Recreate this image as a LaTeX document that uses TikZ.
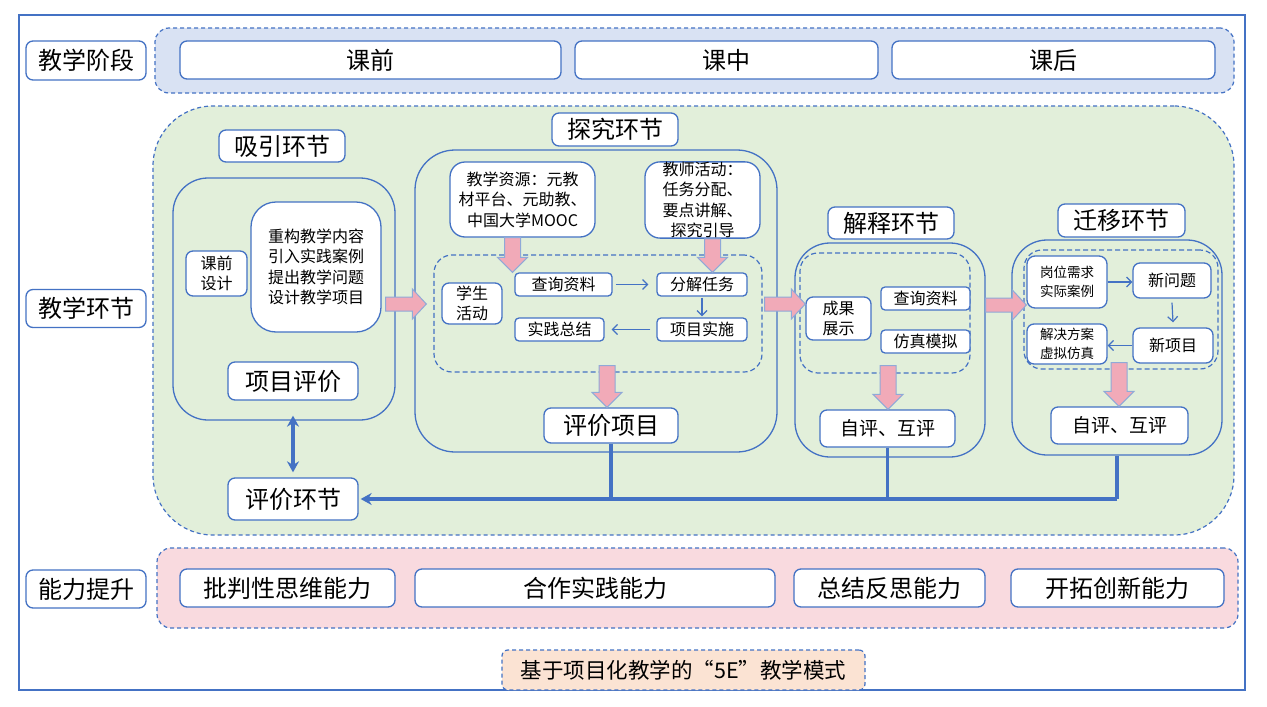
\documentclass[tikz,border=0pt]{standalone}
\usepackage{fontspec}
\setmainfont{Noto Sans CJK SC}
\usetikzlibrary{arrows.meta,calc}

\definecolor{lineblue}{HTML}{4472C4}
\definecolor{bandblue}{HTML}{D9E2F3}
\definecolor{bandgreen}{HTML}{E2EFDA}
\definecolor{bandpink}{HTML}{F9DADF}
\definecolor{titlefill}{HTML}{FBE3D3}
\definecolor{arrowpink}{HTML}{F1AAB8}
\definecolor{arrowedge}{HTML}{8FA9D8}

\newcommand\sizeXL{\fontsize{24}{28}\selectfont}
\newcommand\sizeL{\fontsize{19}{23}\selectfont}
\newcommand\sizeM{\fontsize{16}{20.5}\selectfont}
\newcommand\sizeS{\fontsize{16}{20}\selectfont}
\newcommand\sizeXS{\fontsize{13.5}{19}\selectfont}

% pink block arrows, drawn between two points
\newcommand\pinkdown[2]{%
  \path[fatarrow] let \p1=#1, \p2=#2 in
    (\x1-8pt,\y1) -- (\x1+8pt,\y1) -- (\x1+8pt,\y2+15pt) -- (\x1+15pt,\y2+15pt)
    -- (\x1,\y2) -- (\x1-15pt,\y2+15pt) -- (\x1-8pt,\y2+15pt) -- cycle;}
\newcommand\pinkright[2]{%
  \path[fatarrow] let \p1=#1, \p2=#2 in
    (\x1,\y1+7pt) -- (\x2-14pt,\y1+7pt) -- (\x2-14pt,\y1+15pt) -- (\x2,\y1)
    -- (\x2-14pt,\y1-15pt) -- (\x2-14pt,\y1-7pt) -- (\x1,\y1-7pt) -- cycle;}

\begin{document}
\begin{tikzpicture}[x=1pt,y=-1pt]
\tikzstyle{every node}+=[inner sep=0pt]
\tikzstyle{box}=[draw=lineblue,line width=1.3pt,fill=white,rounded corners=7pt]
\tikzstyle{band}=[draw=lineblue,line width=1.2pt,dash pattern=on 4pt off 3pt,rounded corners=14pt]
\tikzstyle{block}=[draw=lineblue,line width=1.3pt,rounded corners=35pt]
\tikzstyle{subgroup}=[draw=lineblue,line width=1.2pt,dash pattern=on 5pt off 3pt,rounded corners=18pt]
\tikzstyle{flowarrow}=[draw=lineblue,line width=1.2pt,-{Straight Barb[length=5pt,width=10pt]}]
\tikzstyle{fatarrow}=[fill=arrowpink,draw=arrowedge,line width=1pt]
\tikzstyle{bus}=[draw=lineblue,line width=3.2pt]
\useasboundingbox (0,0) rectangle (1267,707);
\fill[white] (0,0) rectangle (1267,707);
\draw[lineblue,line width=1.3pt] (19,15) rectangle (1245,690);

\node (blueband) at (694.5,60.5) [band,fill=bandblue,minimum width=1079pt,minimum height=65pt] {};
\node (greenband) at (693.5,320.5) [band,fill=bandgreen,rounded corners=60pt,minimum width=1081pt,minimum height=429pt] {};
\node (pinkband) at (697.5,588) [band,fill=bandpink,minimum width=1081pt,minimum height=80pt] {};
\node (title) at (683.5,670) [band,fill=titlefill,rounded corners=6pt,minimum width=363pt,minimum height=40pt,font=\fontsize{21.5}{25}\selectfont] {基于项目化教学的“5E”教学模式};

\node (jxjd) at (86,60.5) [box,minimum width=120pt,minimum height=39pt,font=\sizeXL] {教学阶段};
\node (jxhj) at (86,308.5) [box,minimum width=120pt,minimum height=38pt,font=\sizeXL] {教学环节};
\node (nlts) at (86,589) [box,minimum width=120pt,minimum height=38pt,font=\sizeXL] {能力提升};

\node (kq) at (370.5,60) [box,minimum width=381pt,minimum height=38pt,font=\sizeXL] {课前};
\node (kz) at (726.5,60) [box,minimum width=303pt,minimum height=38pt,font=\sizeXL] {课中};
\node (kh) at (1053.5,60) [box,minimum width=323pt,minimum height=38pt,font=\sizeXL] {课后};

\node (xiyin) at (284,299) [block,minimum width=222pt,minimum height=242pt] {};
\node (tanjiu) at (596,301) [block,rounded corners=40pt,minimum width=362pt,minimum height=302pt] {};
\node (jieshi) at (890,350) [block,minimum width=190pt,minimum height=214pt] {};
\node (qianyi) at (1117,347.5) [block,minimum width=210pt,minimum height=215pt] {};

\node (xyhj) at (282,146) [box,minimum width=126pt,minimum height=32pt,font=\sizeXL] {吸引环节};
\node (tjhj) at (615,129.5) [box,minimum width=126pt,minimum height=33pt,font=\sizeXL] {探究环节};
\node (jshj) at (891,223) [box,minimum width=126pt,minimum height=32pt,font=\sizeXL] {解释环节};
\node (qyhj) at (1121.5,220.5) [box,minimum width=127pt,minimum height=33pt,font=\sizeXL] {迁移环节};

\node (tjsub) at (598,313.5) [subgroup,minimum width=328pt,minimum height=117pt] {};
\node (jssub) at (885,313) [subgroup,minimum width=170pt,minimum height=120pt] {};
\node (qysub) at (1121,309.5) [subgroup,minimum width=194pt,minimum height=119pt] {};

\node (kqsj) at (216.5,273.5) [box,minimum width=61pt,minimum height=45pt,align=center,font=\sizeS] {课前\\设计};
\node (cgjx) at (316,267) [box,rounded corners=25pt,minimum width=130pt,minimum height=130pt,align=center,font=\sizeM] {重构教学内容\\引入实践案例\\提出教学问题\\设计教学项目};
\node (xmpj) at (293,381) [box,minimum width=130pt,minimum height=38pt,font=\sizeXL] {项目评价};
\node (pjhj) at (293,499) [box,minimum width=130pt,minimum height=42pt,font=\sizeXL] {评价环节};

\node (jxzy) at (522.5,199.5) [box,rounded corners=15pt,minimum width=145pt,minimum height=75pt,align=center,font=\sizeM] {教学资源：元教\\材平台、元助教、\\中国大学MOOC};
\node (jshd) at (702.5,200) [box,rounded corners=15pt,minimum width=115pt,minimum height=76pt,align=center,font=\sizeM] {教师活动：\\任务分配、\\要点讲解、\\探究引导};
\node (xshd) at (472,303.5) [box,minimum width=60pt,minimum height=41pt,align=center,font=\sizeS] {学生\\活动};
\node (cxzl1) at (563.5,284.5) [box,rounded corners=4pt,minimum width=97pt,minimum height=23pt,font=\sizeS] {查询资料};
\node (fjrw) at (702,284.5) [box,rounded corners=4pt,minimum width=90pt,minimum height=23pt,font=\sizeS] {分解任务};
\node (sjzj) at (559.5,329.5) [box,rounded corners=4pt,minimum width=89pt,minimum height=23pt,font=\sizeS] {实践总结};
\node (xmss) at (702,329.5) [box,rounded corners=4pt,minimum width=90pt,minimum height=23pt,font=\sizeS] {项目实施};
\node (pjxm) at (611,425.5) [box,minimum width=134pt,minimum height=35pt,font=\sizeXL] {评价项目};

\node (cgzs) at (838.5,318.5) [box,minimum width=65pt,minimum height=43pt,align=center,font=\sizeS] {成果\\展示};
\node (cxzl2) at (925.5,298.5) [box,rounded corners=4pt,minimum width=89pt,minimum height=23pt,font=\sizeS] {查询资料};
\node (fzmn) at (925.5,341.5) [box,rounded corners=4pt,minimum width=89pt,minimum height=23pt,font=\sizeS] {仿真模拟};
\node (zp1) at (887.5,428.5) [box,minimum width=135pt,minimum height=37pt,font=\sizeL] {自评、互评};

\node (gwxq) at (1067,282) [box,rounded corners=8pt,minimum width=80pt,minimum height=52pt,align=center,font=\sizeXS] {岗位需求\\实际案例};
\node (xwt) at (1172,280.5) [box,minimum width=78pt,minimum height=35pt,font=\sizeS] {新问题};
\node (xxm) at (1173,345.5) [box,minimum width=80pt,minimum height=35pt,font=\sizeS] {新项目};
\node (jjfa) at (1067,344) [box,minimum width=80pt,minimum height=40pt,align=center,font=\sizeXS] {解决方案\\虚拟仿真};
\node (zp2) at (1119.5,425.5) [box,minimum width=137pt,minimum height=37pt,font=\sizeL] {自评、互评};

\node (ppx) at (287.5,588) [box,minimum width=215pt,minimum height=38pt,font=\sizeXL] {批判性思维能力};
\node (hzsj) at (595,588) [box,minimum width=360pt,minimum height=38pt,font=\sizeXL] {合作实践能力};
\node (zjfs) at (889.5,588) [box,minimum width=191pt,minimum height=38pt,font=\sizeXL] {总结反思能力};
\node (ktcx) at (1117.5,588) [box,minimum width=213pt,minimum height=38pt,font=\sizeXL] {开拓创新能力};

\draw[flowarrow] ([xshift=3pt]cxzl1.east) -- ([xshift=-8pt]fjrw.west);
\draw[flowarrow] ([yshift=-1pt]fjrw.south) -- ([yshift=1pt]xmss.north);
\draw[flowarrow] ([xshift=-6pt]xmss.west) -- ([xshift=7pt]sjzj.east);
\draw[flowarrow] (gwxq.east) -- (gwxq.east -| xwt.west);
\draw[flowarrow] ([yshift=-4pt]xwt.south) -- ([yshift=5pt]xxm.north);
\draw[flowarrow] (xxm.west) -- (xxm.west -| jjfa.east);

\pinkright{([xshift=-10pt,yshift=-5pt]xiyin.east)}{([xshift=12pt]tanjiu.west)}
\pinkright{([xshift=-13pt,yshift=-3pt]tanjiu.east)}{(cgzs.west)}
\pinkright{([yshift=45pt]jieshi.east)}{(gwxq.west)}
\pinkdown{([xshift=-10pt]jxzy.south)}{(cxzl1.north)}
\pinkdown{([xshift=10pt]jshd.south)}{(fjrw.north)}
\pinkdown{([xshift=9pt,yshift=7pt]tjsub.south)}{(pjxm.north)}
\pinkdown{([xshift=3pt,yshift=8pt]jssub.south)}{(zp1.north)}
\pinkdown{([xshift=-2pt,yshift=7pt]qysub.south)}{(zp2.north)}

\draw[bus,{Stealth[length=11pt,width=12pt]}-{Stealth[length=11pt,width=12pt]}] ([yshift=-15pt]xmpj.south) -- ([yshift=5pt]pjhj.north);
\draw[bus] (pjxm.south) -- (pjxm.south |- pjhj.east);
\draw[bus] (zp1.south) -- (zp1.south |- pjhj.east);
\draw[bus] (qianyi.south) -- (qianyi.south |- pjhj.east);
\draw[bus,-{Stealth[length=11pt,width=12pt]}] (pjhj.east -| qianyi.south) -- ([xshift=2pt]pjhj.east);
\end{tikzpicture}
\end{document}
